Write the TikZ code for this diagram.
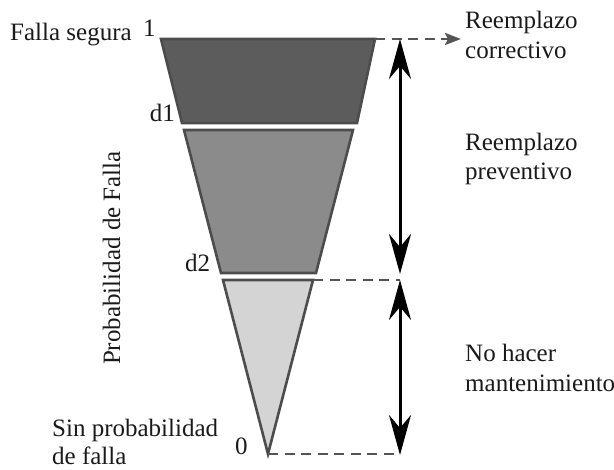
\documentclass[tikz,border=0pt]{standalone}
\usepackage{fontspec}
\setmainfont{Liberation Serif}
\usetikzlibrary{arrows.meta}

\definecolor{edgegray}{HTML}{4C4C4C}
\definecolor{topfill}{HTML}{5C5C5C}
\definecolor{midfill}{HTML}{8B8B8B}
\definecolor{lowfill}{HTML}{D4D4D4}
\definecolor{dashgray}{HTML}{555555}
\definecolor{inkcol}{HTML}{1A1A1A}

\tikzset{
  band/.style={draw=edgegray, line width=2.6pt, line join=miter},
  label/.style={font=\fontsize{25}{30}\selectfont, text=inkcol, inner sep=0pt},
  guide/.style={draw=dashgray, line width=2.8pt, dash pattern=on 10pt off 6.5pt},
  span/.style={draw=black, line width=3pt,
    {Stealth[length=40pt,width=22pt,inset=13pt]}-{Stealth[length=40pt,width=22pt,inset=13pt]}},
}

\begin{document}
\begin{tikzpicture}[x=1pt,y=1pt]
\useasboundingbox (0,0) rectangle (614,-470);

% corner points of the three bands of the cone
\coordinate (t1) at (161,-39);  \coordinate (t2) at (375,-39);
\coordinate (t3) at (357,-123); \coordinate (t4) at (182,-123);
\coordinate (m1) at (184,-130); \coordinate (m2) at (353,-130);
\coordinate (m3) at (316,-273); \coordinate (m4) at (221,-273);
\coordinate (b1) at (223,-280); \coordinate (b2) at (313,-280);
\coordinate (apex) at (268,-454);

% bands
\filldraw[band, fill=topfill] (t1) -- (t2) -- (t3) -- (t4) -- cycle;
\filldraw[band, fill=midfill] (m1) -- (m2) -- (m3) -- (m4) -- cycle;
\filldraw[band, fill=lowfill] (b1) -- (b2) -- (apex) -- cycle;

% ends of the guide lines
\coordinate (toparrow) at (461,-39);
\coordinate (midend) at (400,-280);
\coordinate (lowend) at (400,-454);

% dashed guide lines
\draw[guide, -{Stealth[length=16pt,width=12pt,inset=3pt,fill=dashgray]}] (t2) -- (toparrow);
\draw[guide] (b2) -- (midend);
\draw[guide] (apex) -- (lowend);

% range arrows
\coordinate (r1) at (400,-39);
\coordinate (r2) at (400,-274);
\coordinate (r3) at (400,-280);
\coordinate (r4) at (400,-455);
\draw[span] (r1) -- (r2);
\draw[span] (r3) -- (r4);

% level labels
\node[label, anchor=base west] (fs) at (10,-41) {Falla segura};
\node[label, anchor=base west] (one) at (143,-37) {1};
\node[label, anchor=base east] (d1) at (175,-122) {d1};
\node[label, anchor=base west] (d2) at (185,-272) {d2};
\node[label, anchor=base west] (zero) at (235,-455) {0};
\node[label, anchor=base west] (sp1) at (52,-437) {Sin probabilidad};
\node[label, anchor=base west] (sp2) at (52,-465) {de falla};
\node[label, anchor=base, rotate=90] (axis) at (120,-258) {Probabilidad de Falla};

% action labels
\node[label, anchor=base west] (rc1) at (465,-29) {Reemplazo};
\node[label, anchor=base west] (rc2) at (465,-59) {correctivo};
\node[label, anchor=base west] (rp1) at (465,-151) {Reemplazo};
\node[label, anchor=base west] (rp2) at (465,-180) {preventivo};
\node[label, anchor=base west] (nm1) at (465,-362) {No hacer};
\node[label, anchor=base west] (nm2) at (465,-392) {mantenimiento};
\end{tikzpicture}
\end{document}
